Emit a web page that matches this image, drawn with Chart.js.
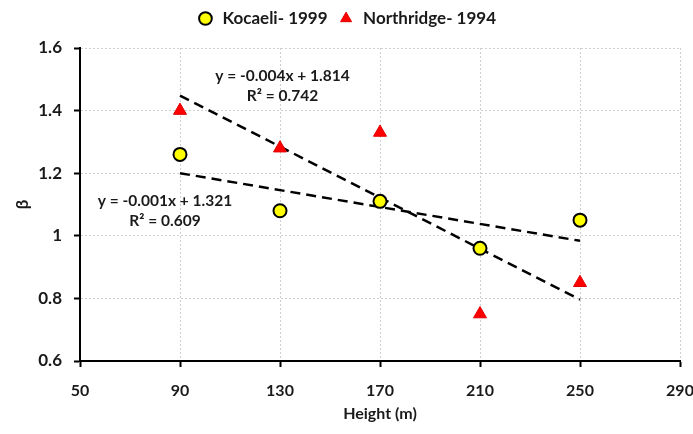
<!DOCTYPE html>
<html>
<head>
<meta charset="utf-8">
<script src="https://cdn.jsdelivr.net/npm/chart.js@4/dist/chart.umd.min.js"></script>
<style>
  html, body { margin: 0; padding: 0; background: #fff; }
  #wrap { width: 693px; height: 434px; }
</style>
</head>
<body>
<div id="wrap"><canvas id="chart" width="693" height="434"></canvas></div>
<script>
// -------------------- DATA --------------------
const heights = [90, 130, 170, 210, 250];
const kocaeli = [1.26, 1.08, 1.11, 0.96, 1.05];
const northridge = [1.40, 1.28, 1.33, 0.75, 0.85];

// trendline ends (x = 90 and x = 250)
const trendX = [90, 250];
const kocaeliTrend = [1.200, 0.984];
const northridgeTrend = [1.448, 0.796];

const xTicks = [50, 90, 130, 170, 210, 250, 290];
const yTicks = [0.6, 0.8, 1, 1.2, 1.4, 1.6];

const kocaeliEq = ["y = -0.001x + 1.321", "R² = 0.609"];
const northridgeEq = ["y = -0.004x + 1.814", "R² = 0.742"];

const FONT = "Lato, 'Open Sans', sans-serif";

function toPoints(xs, ys) {
    return xs.map((x, i) => ({ x: x, y: ys[i] }));
}

// -------------------- LEGEND SPACING --------------------
// extra room under the legend so the plot starts lower
const legendGap = {
    id: "legendGap",
    beforeInit(chart) {
        const fit = chart.legend.fit;
        chart.legend.fit = function () {
            fit.bind(chart.legend)();
            this.height += 11;
        };
    }
};

// -------------------- EQUATION LABELS --------------------
const equationPlugin = {
    id: "equationPlugin",
    afterDatasetsDraw(chart) {
        const { ctx, scales } = chart;
        const labels = [
            { lines: northridgeEq, x: 131, y: 1.511 },
            { lines: kocaeliEq, x: 84, y: 1.112 }
        ];
        ctx.save();
        ctx.font = "bold 15.5px " + FONT;
        ctx.fillStyle = "#1a1a1a";
        ctx.textAlign = "center";
        ctx.textBaseline = "middle";
        labels.forEach(l => {
            const px = scales.x.getPixelForValue(l.x);
            const py = scales.y.getPixelForValue(l.y);
            l.lines.forEach((t, i) => {
                ctx.fillText(t, px, py + i * 20);
            });
        });
        ctx.restore();
    }
};

// -------------------- BUILD CHART --------------------
new Chart(document.getElementById("chart"), {
    type: "scatter",
    plugins: [legendGap, equationPlugin],
    data: {
        datasets: [
            {
                label: "Kocaeli- 1999",
                data: toPoints(heights, kocaeli),
                pointStyle: "circle",
                pointRadius: 6.5,
                pointHoverRadius: 6.5,
                backgroundColor: "#ffff00",
                borderColor: "#000000",
                pointBorderWidth: 2,
                order: 1
            },
            {
                label: "Northridge- 1994",
                data: toPoints(heights, northridge),
                pointStyle: "triangle",
                pointRadius: 7.5,
                pointHoverRadius: 7.5,
                backgroundColor: "#ff0000",
                borderColor: "#e00000",
                pointBorderWidth: 1,
                order: 1
            },
            {
                label: "trend-k",
                data: toPoints(trendX, kocaeliTrend),
                showLine: true,
                pointRadius: 0,
                borderColor: "#000000",
                borderWidth: 2.5,
                borderDash: [10, 6],
                order: 2
            },
            {
                label: "trend-n",
                data: toPoints(trendX, northridgeTrend),
                showLine: true,
                pointRadius: 0,
                borderColor: "#000000",
                borderWidth: 2.5,
                borderDash: [10, 6],
                order: 2
            }
        ]
    },
    options: {
        responsive: false,
        animation: false,
        layout: { padding: 0 },
        plugins: {
            tooltip: { enabled: false },
            legend: {
                position: "top",
                labels: {
                    usePointStyle: true,
                    boxHeight: 9,
                    padding: 10,
                    color: "#1a1a1a",
                    font: { family: FONT, size: 17, weight: "bold" },
                    filter: item => !item.text.startsWith("trend")
                }
            }
        },
        scales: {
            x: {
                type: "linear",
                min: 50,
                max: 290,
                afterBuildTicks(scale) {
                    scale.ticks = xTicks.map(v => ({ value: v }));
                },
                afterFit(scale) {
                    scale.height = 73;
                    scale.paddingLeft = 0;
                    scale.paddingRight = 13;
                },
                ticks: {
                    color: "#1a1a1a",
                    padding: 14,
                    font: { family: FONT, size: 16, weight: "bold" }
                },
                grid: {
                    color: "#d0d0d0",
                    lineWidth: 1,
                    tickColor: "#000000",
                    tickLength: 6,
                    tickWidth: 2,
                    tickBorderDash: []
                },
                border: { display: true, color: "#000000", width: 2, dash: [2, 2] },
                title: {
                    display: true,
                    text: "Height (m)",
                    color: "#1a1a1a",
                    font: { family: FONT, size: 16, weight: "bold" },
                    padding: { top: 0, bottom: 11 }
                }
            },
            y: {
                type: "linear",
                min: 0.6,
                max: 1.6,
                afterBuildTicks(scale) {
                    scale.ticks = yTicks.map(v => ({ value: v }));
                },
                afterFit(scale) {
                    scale.width = 80;
                },
                ticks: {
                    color: "#1a1a1a",
                    padding: 12,
                    font: { family: FONT, size: 17, weight: "bold" },
                    callback: v => String(Number(v.toFixed(1)))
                },
                grid: {
                    color: "#d0d0d0",
                    lineWidth: 1,
                    tickColor: "#000000",
                    tickLength: 6,
                    tickWidth: 2,
                    tickBorderDash: []
                },
                border: { display: true, color: "#000000", width: 2, dash: [2, 2] },
                title: {
                    display: true,
                    text: "β",
                    color: "#1a1a1a",
                    font: { family: FONT, size: 17, weight: "bold" },
                    padding: { top: 12, bottom: 0 }
                }
            }
        }
    }
});
</script>
</body>
</html>
